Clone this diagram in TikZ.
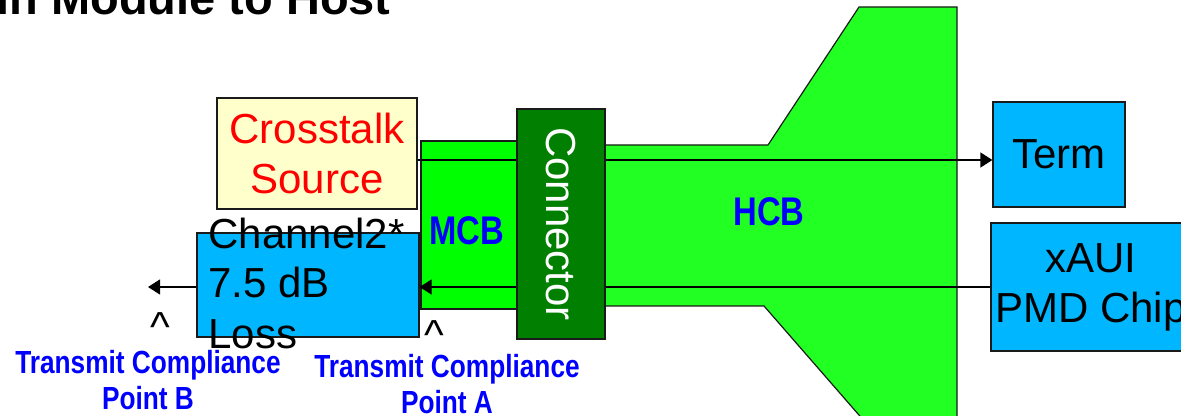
\documentclass[tikz,border=0pt]{standalone}
\usepackage{fontspec}
\setmainfont{Liberation Sans}
\newfontfamily\narrowfont[FakeStretch=0.82]{Liberation Sans}
\usetikzlibrary{arrows.meta,positioning}
\definecolor{xtYellow}{HTML}{FFFFCC}
\definecolor{xtBlue}  {HTML}{00B7FF}
\definecolor{xtGreen} {HTML}{00FF00}
\definecolor{xtHost}  {HTML}{22FF22}
\definecolor{xtDark}  {HTML}{007F00}
\definecolor{xtInk}   {HTML}{1A1A1A}

\begin{document}
\begin{tikzpicture}[x=0.5pt,y=-0.5pt,
    box/.style={draw=xtInk,line width=0.6pt,inner sep=0pt},
    big/.style={font=\fontsize{21}{25}\selectfont},
    boardtag/.style={font=\narrowfont\bfseries\fontsize{20}{24}\selectfont,text=blue,inner sep=0pt},
    tag/.style={font=\narrowfont\bfseries\fontsize{16}{18}\selectfont,text=blue,align=center,inner sep=0pt},
    sig/.style={line width=0.6pt,-{Triangle[length=6pt,width=7.5pt]}}]
  \useasboundingbox (0,0) rectangle (1181,416);
  \node[anchor=base west,inner sep=0pt,font=\bfseries\fontsize{23.5}{28}\selectfont] (title) at (-4,15) {in Module to Host};

  \node[box,fill=xtYellow,text=red,big,align=center,minimum width=100pt,minimum height=55.5pt] (xtalk) at (317,153.5) {Crosstalk\\Source};
  \node[box,fill=xtBlue,minimum width=111pt,minimum height=52pt] (chan) at (308,285) {};
  \node[big,anchor=base west,inner sep=0pt,align=left] (chantext) at (208,348) {Channel2*\\7.5 dB\\Loss};

  \node[box,fill=xtGreen,minimum width=48pt,minimum height=84pt] (mcb) at (469,225) {};
  \node[boardtag] (mcbtag) at (467,230.5) {MCB};
  \draw[draw=xtInk,fill=xtHost,line width=0.6pt] (605,145) -- (768,145) -- (859,7) -- (957,7) -- (957,430) -- (872,430) -- (764,306) -- (605,306);
  \node[boardtag] (hcbtag) at (769,212) {HCB};

  \node[box,fill=xtBlue,big,minimum width=66pt,minimum height=52.5pt] (term) at (1059,154.5) {Term};
  \node[box,fill=xtBlue,big,align=center,minimum width=100pt,minimum height=64pt] (xaui) at (1091,287) {xAUI\\PMD Chip};

  \coordinate (xout) at ([yshift=-3.25pt]xtalk.east);
  \coordinate (ptB) at (148,288);
  \draw[sig] (xout) -- (xout -| term.west);
  \draw[sig] (xaui.west) -- (xaui.west -| chan.east);
  \draw[sig] (xaui.west -| chan.west) -- (xaui.west -| ptB);

  \node[box,fill=xtDark,text=white,big,rotate=-90,minimum width=115pt,minimum height=44pt] (conn) at (561,224) {Connector};

  \node[big,anchor=base,inner sep=0pt] (caretB) at (160,342) {\textasciicircum};
  \node[big,anchor=base,inner sep=0pt] (caretA) at (434,349) {\textasciicircum};
  \node[tag,anchor=base] (tagB) at (148,409) {Transmit Compliance\\Point B};
  \node[tag,anchor=base] (tagA) at (447,413) {Transmit Compliance\\Point A};
\end{tikzpicture}
\end{document}
